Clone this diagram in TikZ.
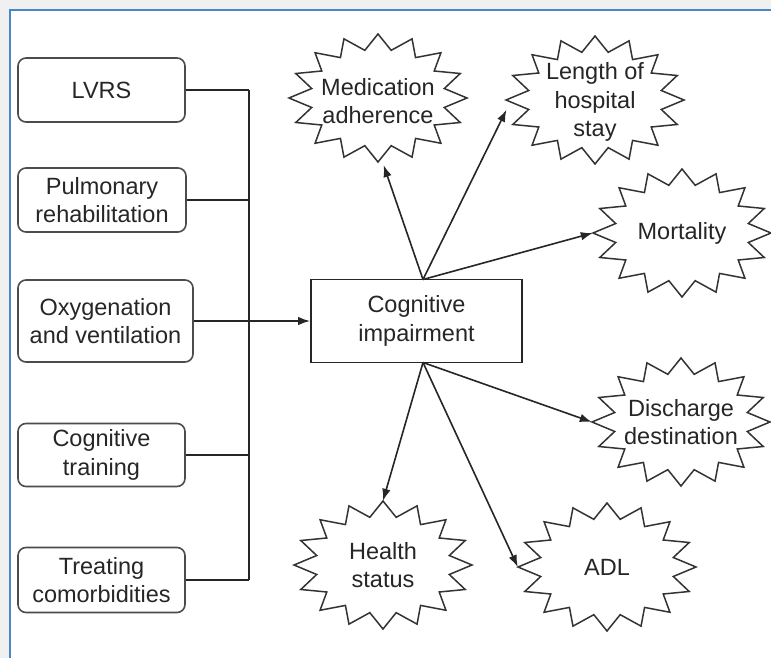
\documentclass[tikz,border=0pt]{standalone}
\usepackage{fontspec}
\setmainfont{Liberation Sans}
\usetikzlibrary{shapes.geometric,arrows.meta}
\definecolor{framebl}{HTML}{4A86C8}
\definecolor{pagegray}{HTML}{F0F0F0}
\definecolor{ink}{HTML}{262626}

% starburst outline centred at (#1,#2): 16 points on an ellipse
\newcommand\burstat[2]{%
  \draw[burst] plot[samples at={0,...,31}, variable=\k]
    ({#1+ifthenelse(mod(\k,2)==0,89,67.6)*cos(90+\k*11.25)},
     {#2+ifthenelse(mod(\k,2)==0,64,48.6)*sin(90+\k*11.25)}) -- cycle;}

\begin{document}
\begin{tikzpicture}[x=1pt,y=-1pt,
  font=\fontsize{23.5}{28.5}\selectfont,
  every node/.style={text=ink, align=center},
  factor/.style={draw=black!70, line width=1.6pt, rounded corners=8pt, inner sep=0pt},
  core/.style={draw=black!85, line width=1.8pt, minimum width=211pt, minimum height=83pt, inner sep=0pt},
  outcome/.style={ellipse, minimum width=178pt, minimum height=128pt, inner sep=0pt},
  link/.style={draw=black!85, line width=1.6pt},
  arrow/.style={link, -{Latex[length=12pt,width=8.5pt]}},
  burst/.style={draw=black!80, line width=1.5pt, line join=miter}
]
\useasboundingbox (0,0) rectangle (771,658);
% page and frame
\fill[pagegray] (0,0) rectangle (771,658);
\fill[white] (10,10) rectangle (771,658);
\draw[framebl, line width=2pt] (10,658) -- (10,10) -- (771,10);

% interventions
\node[factor, minimum width=167pt, minimum height=64pt] (lvrs)  at (101.5,90)  {LVRS};
\node[factor, minimum width=168pt, minimum height=64pt] (pulm)  at (102,200)   {Pulmonary\\rehabilitation};
\node[factor, minimum width=175pt, minimum height=82pt] (oxy)   at (105.5,321) {Oxygenation\\and ventilation};
\node[factor, minimum width=167pt, minimum height=63pt] (cogt)  at (101.5,455) {Cognitive\\training};
\node[factor, minimum width=167pt, minimum height=65pt] (treat) at (101.5,580) {Treating\\comorbidities};

% central box
\node[core] (ci) at (416.5,321) {Cognitive\\impairment};

% outcomes
\burstat{378}{98}
\node[outcome, yshift=-3pt] (med) at (378,98) {Medication\\adherence};
\burstat{595}{100}
\node[outcome, yshift=-2pt] (los) at (595,100) {Length of\\hospital\\stay};
\burstat{682}{233}
\node[outcome] (mort) at (682,233) {Mortality};
\burstat{681}{422}
\node[outcome] (dis) at (681,422) {Discharge\\destination};
\burstat{383}{565}
\node[outcome] (hs) at (383,565) {Health\\status};
\burstat{607}{567}
\node[outcome] (adl) at (607,567) {ADL};

% collecting bus on the left
\coordinate (bus) at (249,0);
\foreach \n in {lvrs,pulm,cogt,treat}
  \draw[link] (\n.east) -- (\n.east -| bus);
\draw[link] (lvrs.east -| bus) -- (treat.east -| bus);
\draw[arrow] (oxy.east) -- (ci.west);

% effects of cognitive impairment
\coordinate (hubN) at (423,279.5);
\coordinate (hubS) at (423,362.5);
\draw[arrow] (hubN) -- (med.-85);
\draw[arrow] (hubN) -- (los.185);
\draw[arrow] (hubN) -- (mort.west);
\draw[arrow] (hubS) -- (dis.west);
\draw[arrow] (hubS) -- (hs.north);
\draw[arrow] (hubS) -- (adl.west);
\end{tikzpicture}
\end{document}
